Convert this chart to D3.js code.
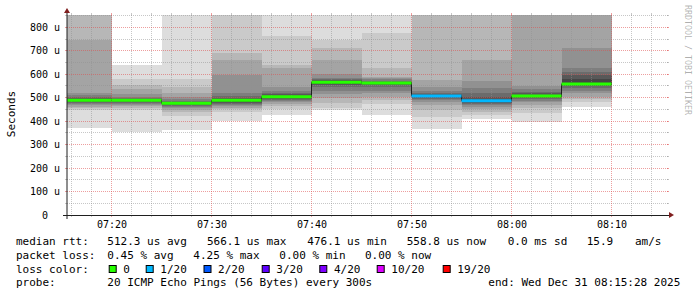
<!DOCTYPE html>
<html lang="en">
<head>
<meta charset="UTF-8" />
<title>SmokePing median rtt</title>
<script src="https://cdn.jsdelivr.net/npm/d3@7/dist/d3.min.js"></script>
<style>
  body { margin: 0; background: #fff; }
  svg { display: block; font-family: "DejaVu Sans Mono", monospace; }
  .lbl { font-size: 11px; fill: #000; }
</style>
</head>
<body>
<svg id="chart" width="697" height="297"></svg>
<script>
// one value per 300 s step, stamped with the step end time
const stepEnds = ["07:20", "07:25", "07:30", "07:35", "07:40", "07:45", "07:50", "07:55", "08:00", "08:05", "08:10"];
const medians = [489, 489, 476.1, 489, 504, 566.1, 563, 507, 487, 507, 558.8]; // us
const lossPct = [0, 0, 0, 0, 0, 0, 0, 4.25, 0.7, 0, 0];
// 20 sorted ping times per step (us), values above the chart top are clipped
const pings = [
  [372, 448, 455, 462, 468, 472, 476, 480, 484, 487, 491, 494, 498, 503, 510, 521, 745, 1000, 1000, 1000],
  [355, 447, 458, 464, 469, 474, 478, 482, 485, 488, 490, 492, 495, 499, 505, 515, 535, 554, 578, 639],
  [362, 422, 440, 448, 455, 460, 464, 468, 472, 475, 477, 480, 483, 488, 495, 505, 520, 545, 580, 1000],
  [399, 440, 450, 458, 465, 470, 475, 479, 483, 487, 491, 495, 500, 508, 519, 597, 661, 689, 1000, 1000],
  [427, 450, 463, 472, 481, 487, 491, 495, 499, 503, 505, 509, 514, 520, 530, 545, 627, 640, 765, 1000],
  [448, 455, 477, 499, 515, 530, 545, 554, 560, 565, 567, 570, 574, 578, 585, 600, 661, 710, 746, 1000],
  [426, 474, 490, 505, 519, 530, 545, 553, 558, 562, 564, 566, 569, 573, 578, 583, 590, 625, 775, 1000],
  [366, 419, 448, 469, 480, 490, 494, 498, 502, 505, 509, 512, 516, 522, 530, 544, 575, 1000, 1000, 1000],
  [409, 426, 440, 452, 462, 468, 472, 476, 480, 485, 489, 496, 505, 519, 540, 571, 661, 1000, 1000, 1000],
  [398, 436, 455, 469, 480, 488, 493, 497, 501, 505, 509, 512, 518, 525, 535, 550, 1000, 1000, 1000, 1000],
  [462, 483, 495, 504, 520, 530, 540, 548, 552, 556, 562, 580, 598, 611, 625, 713, 1000, 1000, 1000, 1000]
];
const yTicks = [0, 100, 200, 300, 400, 500, 600, 700, 800];
const xTickLabels = ["07:20", "07:30", "07:40", "07:50", "08:00", "08:10"];
const lossLevels = [0, 1, 2, 3, 4, 10, 19];
const lossLabels = ["0", "1/20", "2/20", "3/20", "4/20", "10/20", "19/20"];
const lossColors = ["#26ff00", "#00b8ff", "#0059ff", "#5e00ff", "#7e00ff", "#dd00ff", "#ff0000"];
const legendRtt = ["median rtt:", "512.3 us avg", "566.1 us max", "476.1 us min", "558.8 us now", "0.0 ms sd", "15.9", "am/s"];
const legendLoss = ["packet loss:", "0.45 % avg", "4.25 % max", "0.00 % min", "0.00 % now"];
const legendProbe = ["probe:", "20 ICMP Echo Pings (56 Bytes) every 300s", "end: Wed Dec 31 08:15:28 2025"];

const parse = d3.timeParse("%Y-%m-%d %H:%M:%S");
const day = "2025-12-31 ";
const X0 = 67, X1 = 667, Y0 = 215, Y1 = 15;
const t0 = parse(day + "07:15:33");

const svg = d3.select("#chart");
const x = d3.scaleTime().domain([t0, d3.timeSecond.offset(t0, 3600)]).range([X0, X1]);
const y = d3.scaleLinear().domain([0, 852.5]).range([Y0, Y1]);

const steps = stepEnds.map((e, i) => {
  const end = parse(day + e + ":00");
  return { start: d3.timeMinute.offset(end, -5), end, med: medians[i], loss: lossPct[i], pings: pings[i] };
});

function lossColor(pct) {
  const lost = pct / 100 * 20;
  if (lost === 0) return lossColors[0];
  const k = lossLevels.findIndex((l, i) => i > 0 && lost <= l);
  return lossColors[k < 0 ? lossColors.length - 1 : k];
}
// smokeping shading: outer pair light, inner pairs darker
const shade = b => { const c = Math.floor(190 / 10 * (10 - (b + 1))) + 50; return d3.rgb(c, c, c).toString(); };

svg.append("clipPath").attr("id", "plot")
  .append("rect").attr("x", X0).attr("y", Y1).attr("width", X1 - X0).attr("height", Y0 - Y1);

// smoke
const smoke = svg.append("g").attr("clip-path", "url(#plot)").attr("shape-rendering", "crispEdges");
smoke.selectAll("g").data(steps).join("g")
  .selectAll("rect")
  .data(d => d3.range(10).map(b => ({ d, b, lo: d.pings[b], hi: d.pings[19 - b] })))
  .join("rect")
  .attr("x", s => x(s.d.start))
  .attr("width", s => x(s.d.end) - x(s.d.start))
  .attr("y", s => y(s.hi))
  .attr("height", s => y(s.lo) - y(s.hi))
  .attr("fill", s => shade(s.b));

// grid
const px = v => Math.floor(v) + 0.5;
const grid = svg.append("g");
const minorGrid = "rgba(143,143,143,0.5)", majorGrid = "rgba(222,79,79,0.55)";
const isMajorT = t => t.getMinutes() % 10 === 0;
const minutes = d3.timeMinute.every(2).range(d3.timeMinute.ceil(t0), x.domain()[1]);
const hMinor = d3.range(50, 852, 100), hMajor = yTicks.filter(v => v > 0);

function vline(t, col) {
  const xx = px(x(t));
  grid.append("line").attr("x1", xx).attr("x2", xx).attr("y1", Y1).attr("y2", Y0)
    .attr("stroke", col).attr("stroke-dasharray", "1,1");
  grid.append("line").attr("x1", xx).attr("x2", xx).attr("y1", Y0).attr("y2", Y0 + 2).attr("stroke", col);
  grid.append("line").attr("x1", xx).attr("x2", xx).attr("y1", Y1 - 2).attr("y2", Y1).attr("stroke", col);
}
function hline(v, col) {
  const yy = px(y(v));
  grid.append("line").attr("x1", X0).attr("x2", X1 + 1).attr("y1", yy).attr("y2", yy)
    .attr("stroke", col).attr("stroke-dasharray", "1,1");
  grid.append("line").attr("x1", X0 - 2).attr("x2", X0).attr("y1", yy).attr("y2", yy).attr("stroke", col);
  grid.append("line").attr("x1", X1).attr("x2", X1 + 2).attr("y1", yy).attr("y2", yy).attr("stroke", col);
}
minutes.filter(t => !isMajorT(t)).forEach(t => vline(t, minorGrid));
hMinor.forEach(v => hline(v, minorGrid));
minutes.filter(isMajorT).forEach(t => vline(t, majorGrid));
hMajor.forEach(v => hline(v, majorGrid));

// median: thin dark step line, then loss-coloured segments
const medPts = steps.map(s => [s.start, s.med]).concat([[steps[steps.length - 1].end, steps[steps.length - 1].med]]);
const med = svg.append("g").attr("clip-path", "url(#plot)");
med.append("path")
  .attr("d", d3.line().x(p => x(p[0])).y(p => y(p[1])).curve(d3.curveStepAfter)(medPts))
  .attr("fill", "none").attr("stroke", "#202020").attr("stroke-width", 1);
med.selectAll("line").data(steps).join("line")
  .attr("x1", s => x(s.start)).attr("x2", s => x(s.end))
  .attr("y1", s => y(s.med)).attr("y2", s => y(s.med))
  .attr("stroke", s => lossColor(s.loss)).attr("stroke-width", 3);

// axes
const yAxis = svg.append("g").attr("transform", `translate(${X0},0)`)
  .call(d3.axisLeft(y).tickValues(yTicks).tickSize(0).tickPadding(7).tickFormat(v => v === 0 ? "0" : v + " u"));
yAxis.select(".domain").remove();
yAxis.selectAll("text").attr("font-family", "DejaVu Sans Mono").attr("font-size", 10).attr("fill", "#000")
  .filter(v => v === 0).attr("dx", -12);

const xAxis = svg.append("g").attr("transform", `translate(0,${Y0})`)
  .call(d3.axisBottom(x).tickValues(xTickLabels.map(l => parse(day + l + ":00"))).tickSize(0).tickPadding(5.5)
    .tickFormat(d3.timeFormat("%H:%M")));
xAxis.select(".domain").remove();
xAxis.selectAll("text").attr("font-family", "DejaVu Sans Mono").attr("font-size", 10).attr("fill", "#000");

svg.append("line").attr("x1", X0 - 4).attr("x2", X1 + 4).attr("y1", Y0 + 0.5).attr("y2", Y0 + 0.5).attr("stroke", "#1f1f1f");
svg.append("line").attr("x1", X0).attr("x2", X0).attr("y1", Y0 + 4).attr("y2", Y1 - 4).attr("stroke", "#1f1f1f");
svg.append("path").attr("d", `M${X1 + 2},${Y0 - 3}L${X1 + 2},${Y0 + 3}L${X1 + 7},${Y0}Z`).attr("fill", "#801f1f");
svg.append("path").attr("d", `M${X0 - 3},${Y1 - 2}L${X0 + 3},${Y1 - 2}L${X0},${Y1 - 7}Z`).attr("fill", "#801f1f");

svg.append("text").attr("transform", "translate(14.5,114) rotate(-90)").attr("text-anchor", "middle")
  .attr("font-size", 11).text("Seconds");
svg.append("text").attr("transform", "translate(685,5) rotate(90)").attr("font-size", 8.3)
  .attr("fill", "rgba(0,0,0,0.32)").text("RRDTOOL / TOBI OETIKER");

// legend
const legend = svg.append("g").attr("class", "lbl");
const put = (xs, texts, yb) => texts.forEach((t, i) =>
  legend.append("text").attr("x", xs[i]).attr("y", yb).attr("class", "lbl").text(t));
put([16, 107.3, 207, 307.3, 406.7, 507.7, 586.7, 635], legendRtt, 245);
put([16, 107.3, 193.3, 279.3, 365], legendLoss, 258.7);
put([16], ["loss color:"], 272.7);
const boxX = [108.7, 145.7, 203.5, 261.7, 319.3, 376.7, 442.7];
lossLabels.forEach((l, i) => {
  legend.append("rect").attr("x", boxX[i] + 0.5).attr("y", 265.5).attr("width", 7).attr("height", 7)
    .attr("fill", lossColors[i]).attr("stroke", "#000");
  legend.append("text").attr("x", boxX[i] + 14.6).attr("y", 272.7).attr("class", "lbl").text(l);
});
put([16, 107.3, 488.3], legendProbe, 286.4);
</script>
</body>
</html>
